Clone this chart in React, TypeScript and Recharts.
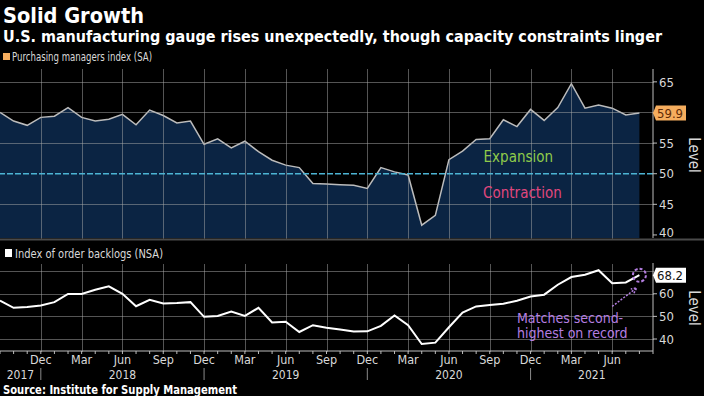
import {
  ComposedChart,
  Area,
  Line,
  XAxis,
  YAxis,
  ReferenceLine,
  ReferenceDot,
} from 'recharts'

// monthly, Sep 2017 .. Aug 2021
const months = [
  'Sep 17', 'Oct 17', 'Nov 17', 'Dec 17', 'Jan 18', 'Feb 18', 'Mar 18', 'Apr 18',
  'May 18', 'Jun 18', 'Jul 18', 'Aug 18', 'Sep 18', 'Oct 18', 'Nov 18', 'Dec 18',
  'Jan 19', 'Feb 19', 'Mar 19', 'Apr 19', 'May 19', 'Jun 19', 'Jul 19', 'Aug 19',
  'Sep 19', 'Oct 19', 'Nov 19', 'Dec 19', 'Jan 20', 'Feb 20', 'Mar 20', 'Apr 20',
  'May 20', 'Jun 20', 'Jul 20', 'Aug 20', 'Sep 20', 'Oct 20', 'Nov 20', 'Dec 20',
  'Jan 21', 'Feb 21', 'Mar 21', 'Apr 21', 'May 21', 'Jun 21', 'Jul 21', 'Aug 21',
]

const pmi = [
  60.0, 58.6, 57.9, 59.2, 59.4, 60.8, 59.2, 58.6, 58.9, 59.7, 58.0, 60.4,
  59.5, 58.3, 58.6, 54.8, 55.7, 54.2, 55.3, 53.6, 52.2, 51.4, 51.0, 48.4,
  48.3, 48.2, 48.1, 47.6, 51.0, 50.3, 49.8, 41.6, 43.2, 52.3, 53.7, 55.6,
  55.7, 58.8, 57.7, 60.5, 58.7, 60.8, 64.7, 60.7, 61.2, 60.7, 59.6, 59.9,
]

const backlog = [
  57.0, 53.8, 54.2, 54.8, 56.3, 59.9, 59.9, 61.8, 63.3, 60.0, 54.5, 57.3,
  55.7, 55.9, 56.3, 49.8, 50.2, 52.1, 50.2, 53.8, 47.3, 47.6, 43.1, 46.1,
  45.0, 44.2, 43.3, 43.4, 45.8, 50.4, 46.1, 37.8, 38.4, 45.2, 51.7, 54.4,
  55.0, 55.6, 56.9, 58.8, 59.6, 64.0, 67.4, 68.4, 70.4, 64.7, 65.0, 68.2,
]

const quarterTicks = [3, 6, 9, 12, 15, 18, 21, 24, 27, 30, 33, 36, 39, 42, 45]
const quarterLabels = ['Dec', 'Mar', 'Jun', 'Sep', 'Dec', 'Mar', 'Jun', 'Sep', 'Dec', 'Mar', 'Jun', 'Sep', 'Dec', 'Mar', 'Jun']
const yearPos = [1.5, 9, 21, 33, 43.5]
const yearLabels = ['2017', '2018', '2019', '2020', '2021']
const yearBreaks = [3, 15, 27, 39]

const pmiTicks = [40, 45, 50, 55, 65]
const pmiGrid = [45, 55, 60, 65]
const backlogTicks = [40, 50, 60]
const backlogGrid = [40, 50, 60, 70]

const data = months.map((m, i) => ({ i, m, pmi: pmi[i], backlog: backlog[i] }))
const lastPmi = pmi[pmi.length - 1]
const lastBacklog = backlog[backlog.length - 1]
const allMonths = months.map((_, i) => i).concat([months.length])

const FONT = '"DejaVu Sans Condensed", "DejaVu Sans", sans-serif'
const TXT = '#d9d9d9'
const PURPLE = '#b47ee0'
const GRID = '#a8a8a8'

function valueTick(last: number, boxFill: string, textFill: string, bottomVal: number) {
  return (props: any) => {
    const { x, y, payload } = props
    const v = payload.value
    if (v === last) {
      const ax = x - 6
      return (
        <g>
          <polygon
            points={`${ax},${y} ${ax + 3},${y - 7.5} ${ax + 33},${y - 7.5} ${ax + 33},${y + 7.5} ${ax + 3},${y + 7.5}`}
            fill={boxFill}
          />
          <text x={ax + 4} y={y} dy="0.36em" fill={textFill} fontSize={13} fontFamily={FONT}>
            {v.toFixed(1)}
          </text>
        </g>
      )
    }
    const ty = v === bottomVal ? y - 3 : y
    return (
      <text x={x} y={ty} dy="0.36em" fill={TXT} fontSize={13} fontFamily={FONT}>
        {v}
      </text>
    )
  }
}

function MonthTick(props: any) {
  const { x, y, payload } = props
  const k = quarterTicks.indexOf(payload.value)
  if (k < 0) return <g />
  return (
    <text x={x} y={y} dy="0.71em" textAnchor="middle" fill={TXT} fontSize={12.5} fontFamily={FONT}>
      {quarterLabels[k]}
    </text>
  )
}

function YearTick(props: any) {
  const { x, y, payload } = props
  const k = yearPos.indexOf(payload.value)
  if (k >= 0) {
    return (
      <text x={x} y={y + 10.5} textAnchor="middle" fill={TXT} fontSize={12} fontFamily={FONT}>
        {yearLabels[k]}
      </text>
    )
  }
  return <line x1={x} x2={x} y1={y} y2={y + 12} stroke="#8a8a8a" strokeWidth={1} />
}

function Arrow(props: any) {
  const { x1, y1, x2, y2 } = props
  const a = Math.atan2(y2 - y1, x2 - x1)
  const h = 6
  const p1 = `${x2 - h * Math.cos(a - 0.45)},${y2 - h * Math.sin(a - 0.45)}`
  const p2 = `${x2 - h * Math.cos(a + 0.45)},${y2 - h * Math.sin(a + 0.45)}`
  return (
    <g>
      <line x1={x1} y1={y1} x2={x2} y2={y2} stroke={PURPLE} strokeWidth={1.5} strokeDasharray="2 1.5" />
      <polyline points={`${p1} ${x2},${y2} ${p2}`} fill="none" stroke={PURPLE} strokeWidth={1.5} strokeDasharray="2 1.5" />
    </g>
  )
}

function GridLine(props: any) {
  const { x1, y1, x2, y2 } = props
  return (
    <line
      x1={Math.round(x1) + 0.5}
      x2={Math.round(x2) + 0.5}
      y1={Math.round(y1) + 0.5}
      y2={Math.round(y2) + 0.5}
      stroke={GRID}
      strokeWidth={1}
      strokeDasharray="1 1"
    />
  )
}

function gridLines(hVals: number[]) {
  return [
    ...quarterTicks.map((v) => <ReferenceLine key={'v' + v} x={v} shape={<GridLine />} />),
    ...hVals.map((v) => <ReferenceLine key={'h' + v} y={v} shape={<GridLine />} />),
  ]
}

export default function App() {
  return (
    <div style={{ position: 'fixed', left: 0, top: 0, width: 704, height: 396, background: '#000', overflow: 'hidden' }}>
      <div style={{ position: 'absolute', left: 0, top: 0 }}>
        <ComposedChart width={704} height={240} data={data} margin={{ top: 69, right: 0, left: 0, bottom: 2 }}>
          <XAxis dataKey="i" type="number" domain={[0, 48]} hide />
          <YAxis
            orientation="right"
            width={51}
            domain={[39.5, 67.1]}
            ticks={[...pmiTicks, lastPmi]}
            interval={0}
            axisLine={{ stroke: '#bdbdbd' }}
            tickLine={{ stroke: '#bdbdbd' }}
            tickSize={4}
            tickMargin={2}
            tick={valueTick(lastPmi, '#f5ad5e', '#5e2a06', 40)}
          />
          <Area
            dataKey="pmi"
            type="linear"
            stroke="#bcbcbc"
            strokeWidth={1.5}
            fill="#0b2443"
            fillOpacity={1}
            isAnimationActive={false}
          />
          {gridLines(pmiGrid)}
          <ReferenceLine y={50} stroke="#4cb4d4" strokeWidth={1.5} strokeDasharray="6 2" />
          <ReferenceDot
            x={38.1}
            y={52.8}
            r={0}
            fill="none"
            stroke="none"
            label={{ value: 'Expansion', fill: '#8fcb4a', fontSize: 15, fontFamily: FONT, position: 'center' }}
          />
          <ReferenceDot
            x={38.4}
            y={46.9}
            r={0}
            fill="none"
            stroke="none"
            label={{ value: 'Contraction', fill: '#e0477e', fontSize: 15, fontFamily: FONT, position: 'center' }}
          />
        </ComposedChart>
      </div>
      <div style={{ position: 'absolute', left: 0, top: 240 }}>
        <ComposedChart width={704} height={156} data={data} margin={{ top: 23, right: 0, left: 0, bottom: 0 }}>
          <XAxis
            dataKey="i"
            type="number"
            domain={[0, 48]}
            ticks={allMonths}
            interval={0}
            height={17}
            axisLine={{ stroke: '#bdbdbd' }}
            tickLine={{ stroke: '#bdbdbd' }}
            tickSize={3}
            tickMargin={1}
            tick={<MonthTick />}
          />
          <XAxis
            xAxisId="year"
            dataKey="i"
            type="number"
            domain={[0, 48]}
            ticks={[...yearPos, ...yearBreaks]}
            interval={0}
            height={28}
            axisLine={false}
            tickLine={false}
            tickSize={0}
            tickMargin={0}
            tick={<YearTick />}
          />
          <YAxis
            orientation="right"
            width={51}
            domain={[34.7, 73.6]}
            ticks={[...backlogTicks, lastBacklog]}
            interval={0}
            axisLine={{ stroke: '#bdbdbd' }}
            tickLine={{ stroke: '#bdbdbd' }}
            tickSize={4}
            tickMargin={2}
            tick={valueTick(lastBacklog, '#ffffff', '#111111', -1)}
          />
          {gridLines(backlogGrid)}
          <Line dataKey="backlog" type="linear" stroke="#ffffff" strokeWidth={2} dot={false} isAnimationActive={false} />
          <ReferenceDot x={47} y={lastBacklog} r={6.5} fill="none" stroke={PURPLE} strokeWidth={2} strokeDasharray="3 2" />
          <ReferenceLine
            segment={[{ x: 45, y: 54.4 }, { x: 46.8, y: 62.6 }]}
            shape={<Arrow />}
          />
          <ReferenceDot
            x={38}
            y={49.3}
            r={0}
            fill="none"
            stroke="none"
            label={(p: any) => {
              const vb = p.viewBox || {}
              return (
                <text x={vb.x} y={vb.y} fill={PURPLE} fontSize={14} fontFamily={FONT}>
                  <tspan x={vb.x} dy="0.36em">Matches second-</tspan>
                  <tspan x={vb.x} dy="15">highest on record</tspan>
                </text>
              )
            }}
          />
        </ComposedChart>
      </div>
      <svg width={704} height={396} style={{ position: 'absolute', left: 0, top: 0, pointerEvents: 'none' }}>
        <text x={3} y={22.5} fill="#fff" fontSize={22} fontWeight="bold" fontFamily={FONT} textLength={141} lengthAdjust="spacingAndGlyphs">
          Solid Growth
        </text>
        <text x={3} y={42} fill="#fff" fontSize={15} fontWeight="bold" fontFamily={FONT} textLength={659} lengthAdjust="spacingAndGlyphs">
          U.S. manufacturing gauge rises unexpectedly, though capacity constraints linger
        </text>
        <rect x={3} y={53} width={7} height={7} fill="#f5ad5e" />
        <text x={12} y={61} fill={TXT} fontSize={12} fontFamily={FONT} textLength={140} lengthAdjust="spacingAndGlyphs">
          Purchasing managers index (SA)
        </text>
        <line x1={0} x2={704} y1={239.5} y2={239.5} stroke="#4a4a4a" strokeWidth={2} />
        <rect x={5} y={249} width={7} height={8} fill="#fff" />
        <text x={15} y={257.5} fill={TXT} fontSize={12.5} fontFamily={FONT} textLength={148} lengthAdjust="spacingAndGlyphs">
          Index of order backlogs (NSA)
        </text>
        <text transform="translate(689,155) rotate(90)" textAnchor="middle" fill={TXT} fontSize={15} fontFamily={FONT}>
          Level
        </text>
        <text transform="translate(689,308) rotate(90)" textAnchor="middle" fill={TXT} fontSize={15} fontFamily={FONT}>
          Level
        </text>
        <text x={3} y={393.5} fill="#fff" fontSize={12} fontWeight="bold" fontFamily={FONT} textLength={234} lengthAdjust="spacingAndGlyphs">
          Source: Institute for Supply Management
        </text>
      </svg>
    </div>
  )
}
